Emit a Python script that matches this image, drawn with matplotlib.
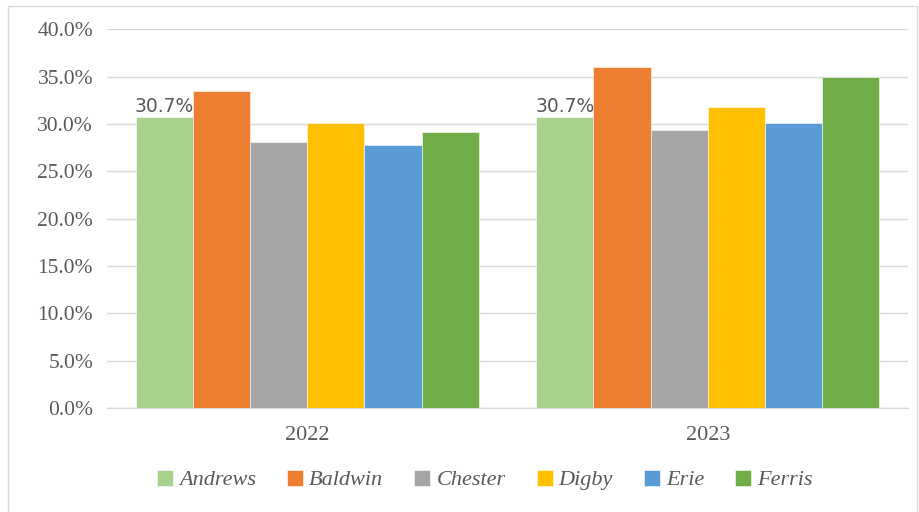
import matplotlib
matplotlib.use("Agg")
import matplotlib.pyplot as plt
import numpy as np
from matplotlib.patches import Rectangle
from matplotlib.ticker import FuncFormatter

years = ["2022", "2023"]
teams = ["Andrews", "Baldwin", "Chester", "Digby", "Erie", "Ferris"]
shares = {
    "Andrews": [0.307, 0.307],
    "Baldwin": [0.335, 0.360],
    "Chester": [0.281, 0.294],
    "Digby": [0.301, 0.318],
    "Erie": [0.278, 0.301],
    "Ferris": [0.291, 0.350],
}
colors = ["#A9D18E", "#ED7D31", "#A5A5A5", "#FFC000", "#5B9BD5", "#70AD47"]
labelled = "Andrews"

serif = "Liberation Serif"
text_grey = "#595959"
grid_grey = "#D9D9D9"

fig = plt.figure(figsize=(9.2, 5.12), dpi=100)
ax = fig.add_axes([0.1163, 0.2031, 0.8707, 0.7397])

# outer chart frame
fig.patches.append(Rectangle((8 / 920, -0.01), 909 / 920, 1 - 6 / 512 + 0.01,
                             transform=fig.transFigure, fill=False,
                             edgecolor=grid_grey, linewidth=1))

x = np.arange(len(years))
w = 1 / 7
for i, (team, c) in enumerate(zip(teams, colors)):
    vals = shares[team]
    bars = ax.bar(x + (i - 2.5) * w, vals, width=w, color=c,
                  edgecolor="white", linewidth=0.4, label=team, zorder=3)
    if team == labelled:
        for b, v in zip(bars, vals):
            ax.text(b.get_x() + b.get_width() / 2, v + 0.001, f"{v * 100:.1f}%",
                    ha="center", va="bottom", fontsize=13.5, color=text_grey,
                    family="DejaVu Sans", zorder=4)

ax.set_xlim(-0.5, 1.5)
ax.set_ylim(0, 0.40)
ax.set_yticks(np.arange(0, 0.401, 0.05))
ax.yaxis.set_major_formatter(FuncFormatter(lambda v, p: f"{v * 100:.1f}%"))
ax.set_xticks(x)
ax.set_xticklabels(years)
ax.grid(axis="y", color=grid_grey, linewidth=1, zorder=0)
for s in ["top", "right", "left"]:
    ax.spines[s].set_visible(False)
ax.spines["bottom"].set_color(grid_grey)
ax.spines["bottom"].set_linewidth(1)
ax.tick_params(axis="both", length=0, labelcolor=text_grey)
ax.tick_params(axis="y", pad=10, labelsize=15.5)
ax.tick_params(axis="x", pad=13, labelsize=16)
for lab in ax.get_xticklabels() + ax.get_yticklabels():
    lab.set_family(serif)

leg = fig.legend(loc="center", bbox_to_anchor=(485 / 920, 1 - 480 / 512),
                 ncol=6, frameon=False, handlelength=0.72, handleheight=0.72,
                 handletextpad=0.27, columnspacing=1.4,
                 prop={"family": serif, "style": "italic", "size": 16})
for t in leg.get_texts():
    t.set_color(text_grey)

fig.savefig("out.png", dpi=100, facecolor="white")
